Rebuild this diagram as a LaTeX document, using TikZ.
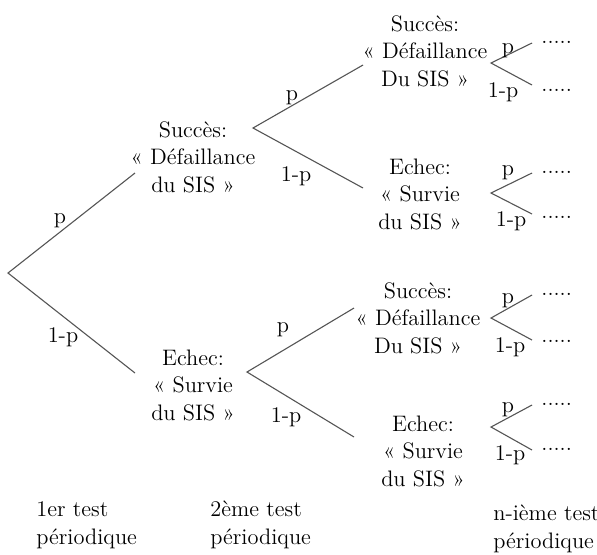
\documentclass[tikz,border=0pt]{standalone}
\usepackage{fontspec}
\definecolor{branchgray}{HTML}{555555}
\tikzset{
  state/.style={align=center,inner sep=0pt},
  stage/.style={align=left,anchor=west,inner sep=0pt},
  prob/.style={anchor=base,inner sep=0pt},
  more/.style={anchor=base west,inner sep=0pt},
  branch/.style={draw=branchgray,line width=0.55pt}
}

\begin{document}
\begin{tikzpicture}[x=0.5pt,y=-0.5pt,font=\fontsize{11.2}{13.75}\selectfont]
  \useasboundingbox (0,0) rectangle (597,554);
  % Root fork
  \coordinate (f0) at (8,273);
  \coordinate (f0u) at (135,173);
  \coordinate (f0d) at (135,373);
  \draw[branch] (f0u) -- (f0) -- (f0d);
  \node[prob] (p0) at (60,223) {p};
  \node[prob] (q0) at (63,342) {1-p};
  % 1er test
  \node[state] (succ1) at (193,157) {Succès:\\« Défaillance\\du SIS »};
  \node[state] (echec1) at (193,385) {Echec:\\« Survie\\du SIS »};
  % Forks after the 1st test
  \coordinate (f1) at (253,128);
  \coordinate (f1u) at (363,65);
  \coordinate (f1d) at (363,188);
  \draw[branch] (f1u) -- (f1) -- (f1d);
  \node[prob] (p1) at (292,100) {p};
  \node[prob] (q1) at (296,181) {1-p};
  \coordinate (f2) at (247,372);
  \coordinate (f2u) at (354,308);
  \coordinate (f2d) at (354,437);
  \draw[branch] (f2u) -- (f2) -- (f2d);
  \node[prob] (p2) at (283,332) {p};
  \node[prob] (q2) at (286,422) {1-p};
  % 2eme test
  \node[state] (succ2a) at (425,51) {Succès:\\« Défaillance\\Du SIS »};
  \node[state] (echec2a) at (420,194) {Echec:\\« Survie\\du SIS »};
  \node[state] (succ2b) at (418,318) {Succès:\\« Défaillance\\Du SIS »};
  \node[state] (echec2b) at (423,451) {Echec:\\« Survie\\du SIS »};
  % Forks towards the n-th test
  \coordinate (fa) at (491,63);
  \coordinate (fau) at (532,43);
  \coordinate (fad) at (532,85);
  \draw[branch] (fau) -- (fa) -- (fad);
  \node[prob] (pa) at (508,53) {p};
  \node[prob] (qa) at (503,97) {1-p};
  \node[more] (ma) at (541,43) {.....};
  \node[more] (na) at (541,91) {.....};
  \coordinate (fb) at (491,193);
  \coordinate (fbu) at (532,173);
  \coordinate (fbd) at (532,214);
  \draw[branch] (fbu) -- (fb) -- (fbd);
  \node[prob] (pb) at (508,175) {p};
  \node[prob] (qb) at (511,226) {1-p};
  \node[more] (mb) at (541,173) {.....};
  \node[more] (nb) at (541,218) {.....};
  \coordinate (fc) at (491,318);
  \coordinate (fcu) at (532,295);
  \coordinate (fcd) at (532,340);
  \draw[branch] (fcu) -- (fc) -- (fcd);
  \node[prob] (pc) at (508,303) {p};
  \node[prob] (qc) at (510,352) {1-p};
  \node[more] (mc) at (541,295) {.....};
  \node[more] (nc) at (541,342) {.....};
  \coordinate (fd) at (491,427);
  \coordinate (fdu) at (532,405);
  \coordinate (fdd) at (532,450);
  \draw[branch] (fdu) -- (fd) -- (fdd);
  \node[prob] (pd) at (508,412) {p};
  \node[prob] (qd) at (510,460) {1-p};
  \node[more] (md) at (541,405) {.....};
  \node[more] (nd) at (541,450) {.....};
  % Test labels
  \node[stage] (t1) at (36,525) {1er test\\périodique};
  \node[stage] (t2) at (210,525) {2ème test\\périodique};
  \node[stage] (tn) at (493,529) {n-ième test\\périodique};
\end{tikzpicture}
\end{document}
